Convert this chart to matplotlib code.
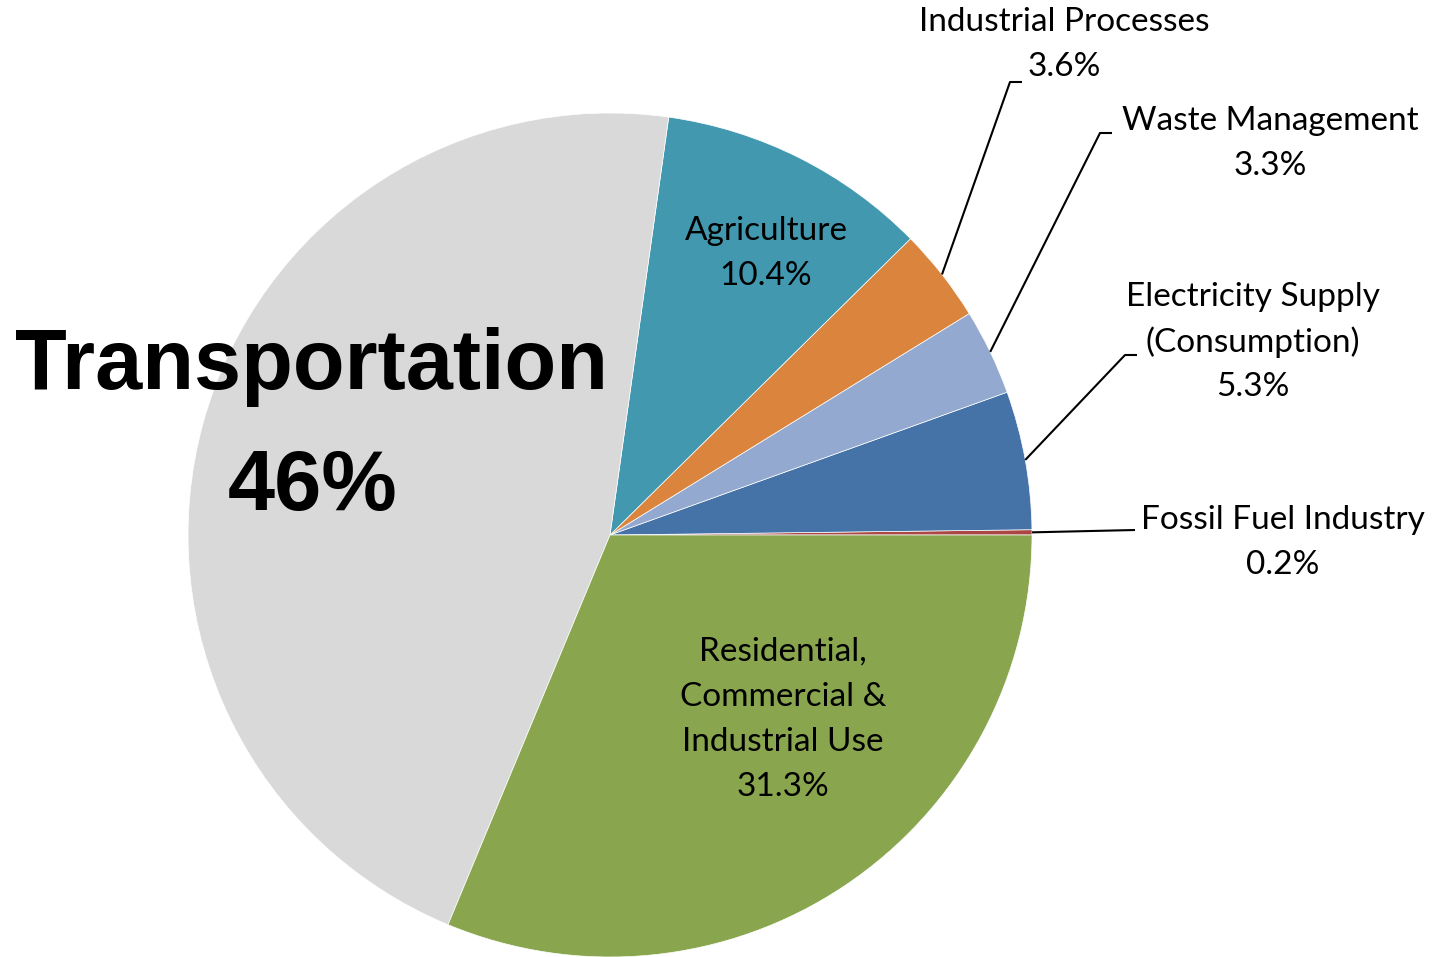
import numpy as np
import matplotlib
matplotlib.use("Agg")
import matplotlib.pyplot as plt

# ── Data (counter-clockwise from 3 o'clock) ──────────────────────────────────
SECTORS = ["Fossil Fuel Industry", "Electricity Supply\n(Consumption)",
           "Waste Management", "Industrial Processes", "Agriculture",
           "Transportation", "Residential,\nCommercial &\nIndustrial Use"]
SHARES = [0.2, 5.3, 3.3, 3.6, 10.4, 46.0, 31.3]
SHARE_TEXT = ["0.2%", "5.3%", "3.3%", "3.6%", "10.4%", "46%", "31.3%"]
COLORS = ["#AA4643", "#4572A7", "#93A9CF", "#DB843D", "#4198AF",
          "#D9D9D9", "#89A54E"]

# ── Layout (pixel coords, y measured from top) ───────────────────────────────
W, H = 1441, 957
CX, CY, R = 610, 535, 422
SMALL_FONT = "Lato"
SMALL_SIZE = 24

# label centre (x, y of first line) and optional leader elbow
inside = {
    4: (766, 231),
    6: (783, 652),
}
outside = {
    0: ((1283, 520), (1135, 530), False),
    1: ((1253, 297), (1125, 355), True),
    2: ((1270, 121), (1100, 133), True),
    3: ((1064, 22), (1010, 82), True),
}
LINE_PX = 45


def Y(py):
    return H - py


fig = plt.figure(figsize=(W / 100, H / 100), dpi=100)
ax = fig.add_axes([0, 0, 1, 1])

ax.pie(SHARES, colors=COLORS, startangle=0, counterclock=True,
       center=(CX, Y(CY)), radius=R,
       wedgeprops=dict(edgecolor="white", linewidth=0.5))
ax.set_xlim(0, W)
ax.set_ylim(0, H)
ax.set_aspect("equal")
ax.axis("off")

# mid angles of each wedge (degrees)
cum = np.cumsum([0] + SHARES)
total = cum[-1]
mid_deg = (cum[:-1] + cum[1:]) / 2 / total * 360


def put_lines(lines, x, y0):
    for k, s in enumerate(lines):
        ax.text(x, Y(y0 + k * LINE_PX), s, ha="center", va="center",
                fontsize=SMALL_SIZE, family=SMALL_FONT, color="black")


for i, (x, y0) in inside.items():
    put_lines(SECTORS[i].split("\n") + [SHARE_TEXT[i]], x, y0)

for i, ((x, y0), (ex, ey), elbow) in outside.items():
    lines = SECTORS[i].split("\n") + [SHARE_TEXT[i]]
    put_lines(lines, x, y0)
    a = np.deg2rad(mid_deg[i])
    sx, sy = CX + R * np.cos(a), CY - R * np.sin(a)
    xs, ys = [sx, ex], [sy, ey]
    if elbow:
        xs.append(ex + 12)
        ys.append(ey)
    ax.plot(xs, [Y(v) for v in ys], color="black", lw=1.5,
            solid_capstyle="butt")

# big transportation label
ax.text(311, Y(367), SECTORS[5], ha="center", va="center", fontsize=61,
        fontweight="bold", family="Liberation Sans")
ax.text(313, Y(488), SHARE_TEXT[5], ha="center", va="center", fontsize=61,
        fontweight="bold", family="Liberation Sans")

fig.savefig("out.png", dpi=100)
